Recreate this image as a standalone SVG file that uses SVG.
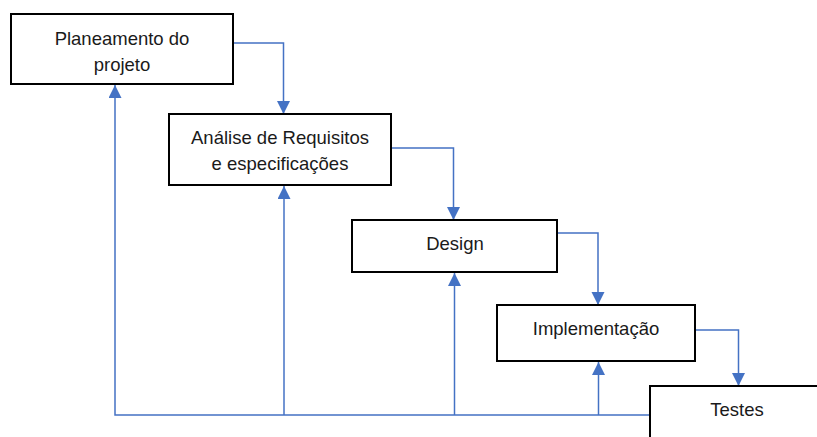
<svg xmlns="http://www.w3.org/2000/svg" width="817" height="437" viewBox="0 0 817 437">
  <style>
    .box { fill: #ffffff; stroke: #000000; stroke-width: 2; }
    .lbl { font-family: "Liberation Sans", Arial, sans-serif; font-size: 18.5px; fill: #1a1a1a; text-anchor: middle; }
    .wire { fill: none; stroke: #4472C4; stroke-width: 1.5; }
  </style>
  <defs>
    <marker id="arrow" markerUnits="userSpaceOnUse" markerWidth="13" markerHeight="14" viewBox="0 0 13 14" refX="13" refY="6.5" orient="auto">
      <path d="M0,0 L13,6.5 L0,13 Z" fill="#4472C4"/>
    </marker>
  </defs>

  <rect width="817" height="437" fill="#ffffff"/>

  <!-- flow and feedback connectors -->
  <g id="connectors">
    <path class="wire" d="M233,43 H283.5 V114" marker-end="url(#arrow)"/>
    <path class="wire" d="M391,148 H453.5 V220" marker-end="url(#arrow)"/>
    <path class="wire" d="M557,233 H598 V305" marker-end="url(#arrow)"/>
    <path class="wire" d="M695,330 H738.5 V386" marker-end="url(#arrow)"/>
    <path class="wire" d="M650,415 H115 V85" marker-end="url(#arrow)"/>
    <path class="wire" d="M284,415 V186" marker-end="url(#arrow)"/>
    <path class="wire" d="M454.5,415 V273" marker-end="url(#arrow)"/>
    <path class="wire" d="M598.5,415 V362" marker-end="url(#arrow)"/>
  </g>

  <g id="planeamento">
    <rect class="box" x="11" y="14" width="222" height="70"/>
    <text class="lbl" x="122" y="45">Planeamento do</text>
    <text class="lbl" x="122" y="71">projeto</text>
  </g>

  <g id="analise">
    <rect class="box" x="169" y="114" width="222" height="71"/>
    <text class="lbl" x="280" y="144">Análise de Requisitos</text>
    <text class="lbl" x="280" y="170">e especificações</text>
  </g>

  <g id="design">
    <rect class="box" x="352" y="220" width="205" height="52"/>
    <text class="lbl" x="455" y="250">Design</text>
  </g>

  <g id="implementacao">
    <rect class="box" x="497" y="305" width="198" height="56"/>
    <text class="lbl" x="596" y="335">Implementação</text>
  </g>

  <g id="testes">
    <rect class="box" x="650" y="386" width="180" height="70"/>
    <text class="lbl" x="737" y="416">Testes</text>
  </g>
</svg>
